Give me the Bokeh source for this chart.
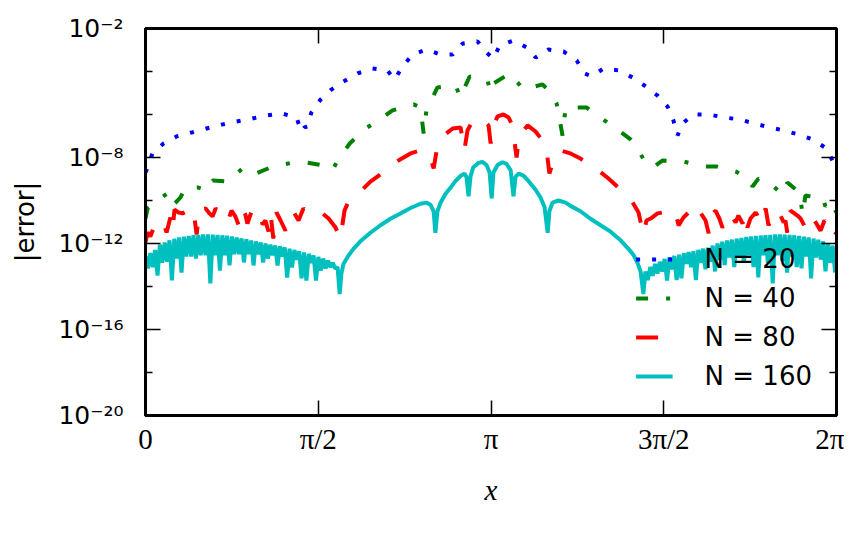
import numpy as np
from bokeh.plotting import figure
from bokeh.models import (Range1d, FixedTicker, LinearAxis, LogAxis,
                          CustomJSTickFormatter, Legend, LegendItem)
from bokeh.embed import file_html
from bokeh.resources import INLINE

# ---------------- tick labels ----------------
x_tick_over_pi = [0, 0.5, 1, 1.5, 2]
x_tick_labels = ["0", "π/2", "π", "3π/2", "2π"]
y_major_exp = [-20, -16, -12, -8, -2]
y_major_labels = ["10⁻²⁰", "10⁻¹⁶", "10⁻¹²", "10⁻⁸", "10⁻²"]
y_minor_exp = [-18, -14, -10, -6, -4]

series_labels = ["N = 20", "N = 40", "N = 80", "N = 160"]

# ---------------- N = 20 (x in units of pi, y as log10|error|) ----------------
n20_x = [0.000, 0.006, 0.020, 0.052, 0.090, 0.133, 0.177, 0.220, 0.263, 0.307,
         0.350, 0.394, 0.437, 0.451, 0.460, 0.469, 0.480, 0.507, 0.538, 0.573,
         0.614, 0.657, 0.700, 0.721, 0.744, 0.773, 0.813, 0.854, 0.889, 0.918,
         0.961, 0.987, 1.007, 1.025, 1.065, 1.103, 1.129, 1.166, 1.210, 1.248,
         1.271, 1.291, 1.326, 1.369, 1.410, 1.444, 1.482, 1.511, 1.528, 1.540,
         1.554, 1.586, 1.630, 1.676, 1.719, 1.763, 1.806, 1.847, 1.890, 1.931,
         1.971, 1.991, 2.000]
n20_log = [-8.70, -8.47, -7.81, -7.35, -7.02, -6.84, -6.65, -6.47, -6.33, -6.19,
           -6.05, -5.95, -6.14, -6.79, -6.60, -6.56, -5.91, -5.30, -4.84, -4.47,
           -4.09, -3.86, -3.95, -4.37, -3.77, -3.21, -2.98, -3.21, -3.21, -2.70,
           -2.60, -3.12, -3.40, -2.79, -2.56, -2.88, -3.35, -2.98, -3.07, -3.49,
           -4.09, -4.23, -3.86, -3.95, -4.28, -4.65, -5.12, -5.63, -6.28, -6.98,
           -6.42, -6.00, -6.00, -6.14, -6.23, -6.42, -6.60, -6.74, -6.93, -7.16,
           -7.58, -8.23, -8.60]

# ---------------- N = 40 ----------------
n40_x = [0.000, 0.006, 0.035, 0.067, 0.081, 0.093, 0.101, 0.116, 0.153, 0.180,
         0.194, 0.237, 0.281, 0.313, 0.368, 0.428, 0.463, 0.515, 0.536, 0.544,
         0.556, 0.591, 0.637, 0.666, 0.715, 0.776, 0.796, 0.805, 0.813, 0.845,
         0.897, 0.912, 0.920, 0.938, 0.990, 0.999, 1.007, 1.054, 1.077, 1.094,
         1.149, 1.172, 1.190, 1.195, 1.207, 1.216, 1.276, 1.303, 1.355, 1.404,
         1.424, 1.453, 1.476, 1.496, 1.557, 1.621, 1.653, 1.708, 1.745, 1.757,
         1.774, 1.818, 1.844, 1.858, 1.893, 1.902, 1.910, 1.925, 1.960, 1.968,
         1.983, 2.000]
n40_log = [-10.84, -10.37, -10.00, -9.63, -10.19, -10.00, -9.86, -9.40, -9.40, -9.53,
           -9.07, -9.12, -8.51, -8.79, -8.42, -8.23, -8.23, -8.37, -8.60, -8.51,
           -8.14, -7.35, -6.65, -6.37, -5.81, -5.53, -5.67, -6.88, -5.81, -4.74,
           -4.65, -5.21, -4.88, -4.23, -4.42, -4.98, -4.56, -4.09, -4.51, -4.84,
           -4.60, -4.98, -5.50, -5.90, -6.98, -5.67, -5.67, -6.00, -6.56, -7.16,
           -7.58, -8.42, -8.37, -8.14, -8.19, -8.42, -8.42, -8.65, -8.98, -9.35,
           -8.98, -9.35, -9.72, -9.16, -9.63, -10.65, -9.77, -9.81, -9.86, -10.28,
           -10.00, -10.56]

# ---------------- N = 80 ----------------
n80_x = [0.000, 0.006, 0.014, 0.023, 0.035, 0.043, 0.052, 0.061, 0.072, 0.078,
         0.084, 0.096, 0.107, 0.119, 0.130, 0.139, 0.148, 0.156, 0.174, 0.185,
         0.194, 0.203, 0.217, 0.229, 0.240, 0.249, 0.260, 0.269, 0.281, 0.289,
         0.295, 0.307, 0.324, 0.333, 0.339, 0.347, 0.356, 0.362, 0.370, 0.379,
         0.391, 0.405, 0.420, 0.431, 0.443, 0.457, 0.466, 0.478, 0.492, 0.501,
         0.512, 0.530, 0.550, 0.564, 0.576, 0.585, 0.608, 0.628, 0.651, 0.680,
         0.709, 0.732, 0.767, 0.796, 0.813, 0.825, 0.834, 0.845, 0.863, 0.889,
         0.912, 0.923, 0.932, 0.949, 0.970, 0.993, 0.999, 1.007, 1.019, 1.036,
         1.051, 1.062, 1.074, 1.082, 1.106, 1.129, 1.149, 1.161, 1.169, 1.181,
         1.201, 1.230, 1.259, 1.282, 1.311, 1.340, 1.369, 1.389, 1.410, 1.427,
         1.441, 1.450, 1.462, 1.482, 1.496, 1.511, 1.534, 1.543, 1.557, 1.577,
         1.598, 1.606, 1.621, 1.630, 1.635, 1.650, 1.661, 1.670, 1.682, 1.693,
         1.708, 1.716, 1.728, 1.734, 1.742, 1.751, 1.766, 1.771, 1.780, 1.789,
         1.795, 1.803, 1.815, 1.832, 1.847, 1.852, 1.858, 1.867, 1.887, 1.896,
         1.910, 1.922, 1.933, 1.954, 1.965, 1.977, 1.991, 2.000]
n80_log = [-11.95, -11.49, -11.67, -11.30, -11.02, -11.12, -11.02, -11.49, -10.79, -11.40,
           -10.42, -10.56, -10.60, -10.51, -10.65, -10.47, -11.58, -10.42, -10.37, -10.60,
           -10.74, -10.37, -10.56, -10.47, -10.88, -10.47, -10.74, -11.12, -10.37, -10.65,
           -11.07, -10.51, -10.37, -10.70, -11.12, -10.93, -11.44, -10.60, -11.77, -10.56,
           -10.93, -11.40, -10.56, -10.60, -10.93, -10.37, -10.51, -10.60, -10.47, -10.51,
           -10.60, -10.84, -11.26, -11.77, -10.47, -10.14, -9.81, -9.49, -9.12, -8.79,
           -8.42, -8.14, -7.81, -7.67, -7.77, -8.05, -8.51, -7.44, -6.98, -6.65,
           -6.60, -7.67, -6.74, -6.23, -6.19, -6.51, -7.35, -6.51, -6.09, -6.00,
           -6.14, -6.51, -8.00, -6.98, -6.51, -6.79, -7.21, -7.67, -8.74, -8.14,
           -7.67, -7.81, -8.05, -8.28, -8.60, -8.98, -9.40, -9.67, -10.09, -10.56,
           -11.58, -10.93, -10.84, -10.60, -10.56, -10.42, -10.56, -11.16, -10.79, -10.47,
           -10.84, -10.56, -10.93, -11.53, -10.70, -10.47, -10.84, -11.26, -10.84, -10.60,
           -11.02, -10.70, -11.07, -10.60, -11.26, -10.84, -10.56, -10.70, -11.07, -10.65,
           -10.37, -11.16, -10.70, -10.47, -11.02, -10.93, -11.53, -10.47, -10.70, -10.84,
           -11.26, -10.74, -10.84, -11.40, -10.93, -11.30, -11.72, -11.49]

# ---------------- N = 160 ----------------
# densely oscillating left part (x from 0 to 0.549 pi, evenly sampled)
n160_left_log = [-12.60, -13.16, -12.45, -13.10, -12.30, -13.49, -12.05, -12.90, -11.95, -12.85,
                 -11.85, -13.72, -11.78, -12.70, -11.72, -13.35, -11.68, -12.60, -11.65, -12.60,
                 -11.62, -12.70, -11.60, -12.55, -11.58, -12.55, -11.58, -13.86, -11.59, -12.55,
                 -11.60, -13.26, -11.62, -12.55, -11.64, -13.02, -11.67, -12.50, -11.72, -12.50,
                 -11.76, -12.88, -11.80, -12.50, -11.86, -13.02, -11.90, -12.50, -11.95, -12.88,
                 -12.00, -12.70, -12.05, -12.55, -12.09, -13.02, -12.13, -12.60, -12.18, -13.58,
                 -12.24, -13.12, -12.30, -12.75, -12.36, -13.62, -12.42, -13.72, -12.48, -12.90,
                 -12.55, -13.72, -12.62, -13.26, -12.70, -13.16, -12.80, -13.10, -12.90, -13.16]
# smooth central part
n160_mid_x = [0.556, 0.562, 0.567, 0.573, 0.588, 0.602, 0.622, 0.651, 0.680, 0.709,
              0.738, 0.767, 0.796, 0.813, 0.825, 0.834, 0.839, 0.845, 0.854, 0.868,
              0.883, 0.897, 0.912, 0.923, 0.929, 0.935, 0.941, 0.949, 0.964, 0.975,
              0.987, 0.996, 1.002, 1.007, 1.019, 1.033, 1.045, 1.057, 1.065, 1.071,
              1.080, 1.094, 1.109, 1.129, 1.143, 1.155, 1.164, 1.169, 1.178, 1.195,
              1.216, 1.230, 1.259, 1.288, 1.317, 1.346, 1.375, 1.398, 1.413, 1.424,
              1.433, 1.441]
n160_mid_log = [-13.10, -14.35, -13.40, -12.95, -12.55, -12.25, -11.90, -11.50, -11.15, -10.85,
                -10.60, -10.35, -10.15, -10.10, -10.20, -10.50, -11.50, -10.50, -10.10, -9.70,
                -9.40, -9.10, -8.85, -8.75, -8.90, -9.80, -8.85, -8.45, -8.25, -8.20,
                -8.35, -8.70, -9.90, -8.70, -8.35, -8.22, -8.30, -8.60, -9.80, -8.90,
                -8.75, -8.84, -9.10, -9.50, -9.85, -10.30, -11.50, -10.50, -10.10, -10.00,
                -10.10, -10.25, -10.50, -10.85, -11.15, -11.45, -11.85, -12.25, -12.55, -12.90,
                -13.30, -14.35]
# densely oscillating right part (x from 1.447 pi to 1.996 pi, evenly sampled)
n160_right_log = [-13.30, -13.70, -13.10, -13.50, -12.95, -13.40, -12.85, -13.30, -12.72, -13.72,
                  -12.65, -13.20, -12.58, -13.70, -12.52, -13.62, -12.45, -12.95, -12.40, -13.10,
                  -12.36, -13.70, -12.30, -12.90, -12.24, -13.20, -12.20, -12.85, -12.10, -13.30,
                  -12.00, -12.75, -11.92, -13.00, -11.86, -12.65, -11.82, -13.10, -11.78, -12.60,
                  -11.74, -12.90, -11.70, -12.55, -11.67, -13.10, -11.65, -13.58, -11.63, -12.55,
                  -11.61, -12.90, -11.60, -13.86, -11.58, -12.55, -11.58, -12.80, -11.59, -13.35,
                  -11.60, -12.60, -11.62, -13.10, -11.65, -13.16, -11.68, -12.60, -11.72, -13.62,
                  -11.77, -12.65, -11.83, -12.75, -11.90, -13.30, -11.98, -12.90, -12.10, -13.35]

# ---------------- assemble ----------------
def xy(xs_over_pi, logs):
    return np.array(xs_over_pi) * np.pi, 10.0 ** np.array(logs)

x20, y20 = xy(n20_x, n20_log)
x40, y40 = xy(n40_x, n40_log)
x80, y80 = xy(n80_x, n80_log)
n160_left_x = np.linspace(0.0, 0.549, len(n160_left_log))
n160_right_x = np.linspace(1.447, 1.996, len(n160_right_log))
x160, y160 = xy(np.concatenate([n160_left_x, n160_mid_x, n160_right_x]),
                np.concatenate([n160_left_log, n160_mid_log, n160_right_log]))

p = figure(frame_width=691, frame_height=387,
           x_range=Range1d(0, 2 * np.pi), y_range=Range1d(1e-20, 1e-2),
           y_axis_type="log", output_backend="svg", toolbar_location=None,
           min_border_left=145, min_border_top=28, min_border_right=8,
           min_border_bottom=8)
p.grid.visible = False
p.outline_line_color = "black"
p.outline_line_width = 3
p.background_fill_color = "white"
p.border_fill_color = "white"

x_ticker = FixedTicker(ticks=[v * np.pi for v in x_tick_over_pi], minor_ticks=[])
y_ticker = FixedTicker(ticks=[10.0 ** e for e in y_major_exp],
                       minor_ticks=[10.0 ** e for e in y_minor_exp])

xfmt = CustomJSTickFormatter(args=dict(labels=x_tick_labels), code="""
const k = Math.round(tick / (Math.PI / 2));
return (k >= 0 && k < labels.length) ? labels[k] : "";
""")
yfmt = CustomJSTickFormatter(args=dict(labels=y_major_labels, exps=y_major_exp), code="""
const e = Math.round(Math.log10(tick));
const i = exps.indexOf(e);
return i >= 0 ? labels[i] : "";
""")
blank = CustomJSTickFormatter(code="return '';")

def style(ax):
    ax.axis_line_color = "black"
    ax.axis_line_width = 3
    ax.major_tick_in = 15
    ax.major_tick_out = 0
    ax.major_tick_line_color = "black"
    ax.major_tick_line_width = 1.5
    ax.minor_tick_line_color = "black"
    ax.minor_tick_line_width = 1.5

xa = p.xaxis[0]
xa.ticker = x_ticker
xa.formatter = xfmt
style(xa)
xa.minor_tick_in = 0
xa.minor_tick_out = 0
xa.major_label_text_font = "Liberation Serif"
xa.major_label_text_font_size = "29px"
xa.major_label_text_color = "black"
xa.major_label_standoff = 7
xa.axis_label = "x"
xa.axis_label_text_font = "Liberation Serif"
xa.axis_label_text_font_style = "italic"
xa.axis_label_text_font_size = "29px"
xa.axis_label_text_color = "black"
xa.axis_label_standoff = 16

ya = p.yaxis[0]
ya.ticker = y_ticker
ya.formatter = yfmt
style(ya)
ya.minor_tick_in = 7
ya.minor_tick_out = 0
ya.major_label_text_font = "DejaVu Sans"
ya.major_label_text_font_size = "25px"
ya.major_label_text_color = "black"
ya.major_label_standoff = 22
ya.axis_label = "|error|"
ya.axis_label_text_font = "DejaVu Sans"
ya.axis_label_text_font_style = "normal"
ya.axis_label_text_font_size = "26px"
ya.axis_label_text_color = "black"
ya.axis_label_standoff = 15

top = LinearAxis(ticker=x_ticker, formatter=blank)
style(top)
top.minor_tick_in = 0
top.minor_tick_out = 0
top.major_label_text_font_size = "1px"
p.add_layout(top, "above")

right = LogAxis(ticker=y_ticker, formatter=blank)
style(right)
right.minor_tick_in = 7
right.minor_tick_out = 0
right.major_label_text_font_size = "1px"
p.add_layout(right, "right")

r20 = p.line(x20, y20, line_color="#0000ff", line_width=4, line_dash="4 12")
r40 = p.line(x40, y40, line_color="#008000", line_width=4, line_dash="12 18 4 18")
r80 = p.line(x80, y80, line_color="#ff0000", line_width=4, line_dash="22 22")
r160 = p.line(x160, y160, line_color="#00bfbf", line_width=4)

legend = Legend(items=[LegendItem(label=lab, renderers=[r])
                       for lab, r in zip(series_labels, [r20, r40, r80, r160])],
                location="bottom_right", background_fill_alpha=0,
                border_line_color=None, label_text_font="DejaVu Sans",
                label_text_font_size="26px", label_text_color="black",
                glyph_width=37, glyph_height=30, label_height=30,
                label_standoff=32, spacing=9, padding=10, margin=24)
p.add_layout(legend)

open("out.html", "w").write(file_html(p, INLINE))
